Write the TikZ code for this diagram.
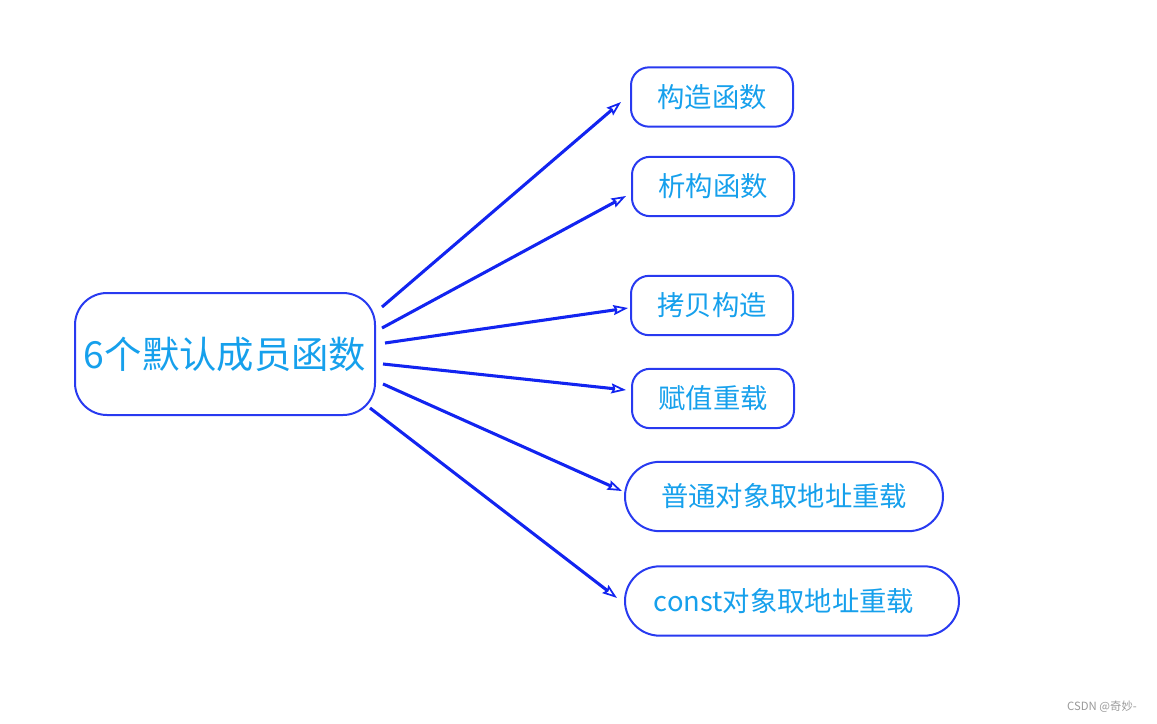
\documentclass[tikz,border=0pt]{standalone}
\usepackage{fontspec}
\setmainfont{Noto Sans CJK SC}
\usetikzlibrary{arrows.meta}
\definecolor{boxline}{RGB}{40,58,240}
\definecolor{arrowline}{RGB}{18,36,240}
\definecolor{labeltext}{RGB}{22,160,236}
\begin{document}
\begin{tikzpicture}[x=0.75pt,y=-0.75pt,
    box/.style={draw=boxline,line width=1.5pt,text=labeltext,font=\fontsize{20.5pt}{24pt}\selectfont,
        rounded corners=13.5pt,minimum width=121.5pt,minimum height=44.5pt,inner sep=0pt},
    widebox/.style={box,rounded corners=26pt,minimum height=52pt},
    link/.style={draw=arrowline,line width=2.3pt,-{Stealth[open,length=11pt,width=7.5pt,inset=1.5pt,line width=1.3pt]}}]
    \useasboundingbox (0,0) rectangle (1157,724);

    \node[box,rounded corners=24pt,minimum width=225pt,minimum height=91.5pt,
          font=\fontsize{28pt}{34pt}\selectfont] (members) at (225,354) {6个默认成员函数};
    \node[box] (ctor) at (712,97) {构造函数};
    \node[box] (dtor) at (713,186.5) {析构函数};
    \node[box] (copyctor) at (712,305.5) {拷贝构造};
    \node[box] (assign) at (713,398.5) {赋值重载};
    \node[widebox,minimum width=238.5pt] (addr) at (784,496.5) {普通对象取地址重载};
    \node[widebox,minimum width=250.5pt] (constaddr) at (792,601) {\hspace*{-12pt}const对象取地址重载};
    \node[text=gray!80,font=\fontsize{8.5pt}{10pt}\selectfont,inner sep=0pt] (mark) at (1102,707) {CSDN @奇妙-};

    \coordinate (s1) at (382,307); \coordinate (t1) at (621,102);
    \coordinate (s2) at (382,328); \coordinate (t2) at (626,196);
    \coordinate (s3) at (385,343); \coordinate (t3) at (628,308);
    \coordinate (s4) at (383,364); \coordinate (t4) at (626,390);
    \coordinate (s5) at (383,384); \coordinate (t5) at (622,491);
    \coordinate (s6) at (370,408); \coordinate (t6) at (617,598);

    \draw[link] (s1) to (t1); \draw[link] (s2) to (t2); \draw[link] (s3) to (t3);
    \draw[link] (s4) to (t4); \draw[link] (s5) to (t5); \draw[link] (s6) to (t6);
\end{tikzpicture}
\end{document}
